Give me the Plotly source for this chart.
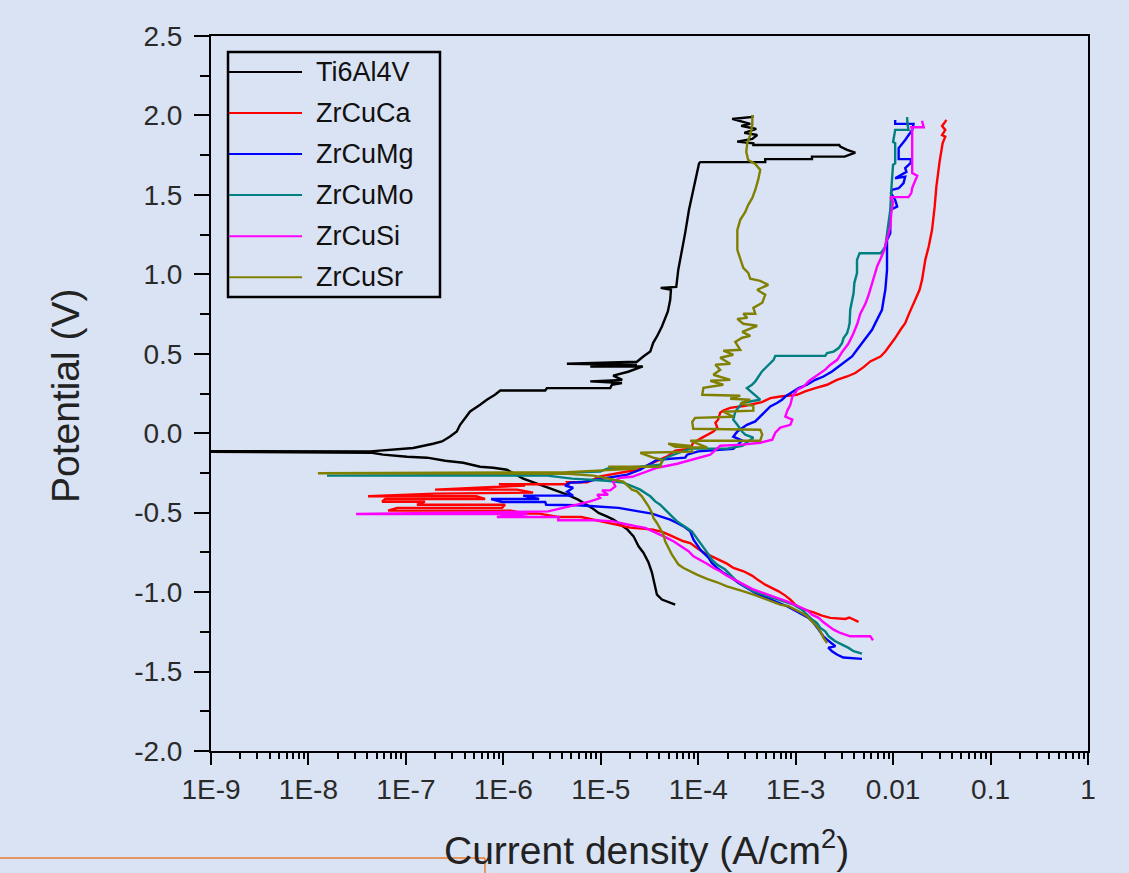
import plotly.graph_objects as go

BG = "#dae3f3"

# ---------------- data (current density A/cm^2, potential V) ----------------
ti_i = [5.8e-5, 4.24e-5, 3.77e-5, 3.62e-5, 3.35e-5, 3.09e-5, 2.74e-5, 2.44e-5, 2.17e-5, 1.85e-5,
        1.35e-5, 1.15e-5, 9.5e-6, 8.1e-6, 5.86e-6, 4.52e-6, 3.25e-6, 2.02e-6, 1.6e-6, 1.09e-6,
        7.86e-7, 5.78e-7, 3.87e-7, 2.53e-7, 1.65e-7, 1.03e-7, 5.83e-8, 4.5e-8, 1e-10, 1e-10,
        4.3e-8, 1.19e-7, 1.9e-7, 2.35e-7, 2.84e-7, 3.33e-7, 3.6e-7, 4.22e-7, 4.56e-7, 5.78e-7,
        6.77e-7, 8.2e-7, 9.3e-7, 2.69e-6, 2.8e-6, 1.25e-5, 1.3e-5, 1.65e-5, 7.8e-6, 1.66e-5,
        1.34e-5, 1.91e-5, 2.7e-5, 7.8e-6, 2.35e-5, 4.49e-6, 2.35e-5, 2.73e-5, 3.22e-5, 3.45e-5,
        3.77e-5, 4.24e-5, 4.58e-5, 4.88e-5, 5.16e-5, 5.25e-5, 4.12e-5, 5.95e-5, 6.24e-5, 6.77e-5,
        7.35e-5, 8.04e-5, 8.76e-5, 9.53e-5, 1.02e-4, 1.05e-4, 4.87e-4, 4.87e-4, 1.47e-3, 1.47e-3,
        3.18e-3, 4.09e-3, 3.37e-3, 2.87e-3, 2.8e-3, 3.68e-4, 3.68e-4, 2.51e-4, 3.59e-4, 4.03e-4,
        2.97e-4, 3.94e-4, 2.76e-4, 3.42e-4, 2.23e-4, 3.59e-4, 3.59e-4]
ti_e = [-1.079, -1.047, -1.016, -0.964, -0.877, -0.814, -0.752, -0.712, -0.649, -0.603,
        -0.544, -0.523, -0.502, -0.47, -0.418, -0.387, -0.355, -0.305, -0.286, -0.230,
        -0.217, -0.211, -0.186, -0.173, -0.154, -0.148, -0.135, -0.123, -0.118, -0.113,
        -0.114, -0.093, -0.066, -0.052, -0.020, 0.011, 0.053, 0.106, 0.137, 0.179,
        0.211, 0.242, 0.269, 0.269, 0.284, 0.284, 0.305, 0.316, 0.326, 0.336,
        0.362, 0.387, 0.42, 0.42, 0.431, 0.437, 0.45, 0.483, 0.514, 0.569,
        0.609, 0.672, 0.726, 0.766, 0.840, 0.903, 0.915, 0.921, 1.028, 1.135,
        1.261, 1.406, 1.511, 1.615, 1.699, 1.706, 1.706, 1.725, 1.725, 1.741,
        1.741, 1.766, 1.783, 1.804, 1.814, 1.814, 1.825, 1.835, 1.852, 1.877,
        1.89, 1.915, 1.934, 1.947, 1.978, 1.99, 2.003]

ca_i = [4.42e-3, 3.55e-3, 3.23e-3, 2.27e-3, 1.86e-3, 1.53e-3, 1.16e-3, 9.9e-4, 8.82e-4, 7.83e-4,
        6.68e-4, 5.71e-4, 4.87e-4, 4.16e-4, 3.56e-4, 2.92e-4, 2.3e-4, 1.97e-4, 1.68e-4, 1.38e-4,
        1.13e-4, 9.7e-5, 8.28e-5, 7.07e-5, 5.8e-5, 4.96e-5, 4.4e-5, 3.62e-5, 3.45e-5, 2.0e-5,
        1.47e-5, 6.3e-6, 3.66e-6, 2.33e-6, 1.71e-6, 1.2e-6, 6.57e-8, 8.13e-8, 9.7e-7, 1.04e-6,
        1.3e-7, 1.57e-7, 5.7e-8, 6.13e-8, 6.5e-7, 5.26e-7, 4.09e-8, 1.99e-7, 2.02e-6, 1.39e-6,
        1.99e-7, 8.6e-7, 1.67e-6, 9.0e-7, 4.63e-6, 4.52e-6, 7.26e-6, 9.86e-6, 1.7e-5, 2.36e-5,
        4.8e-5, 5.8e-5, 8.28e-5, 8.89e-5, 1.1e-4, 1.24e-4, 1.43e-4, 1.57e-4, 1.5e-4, 1.6e-4,
        1.68e-4, 1.81e-4, 2.13e-4, 3.04e-4, 4.51e-4, 5.49e-4, 6.95e-4, 1.03e-3, 1.25e-3, 1.59e-3,
        2.1e-3, 2.65e-3, 3.37e-3, 4.09e-3, 4.98e-3, 5.83e-3, 7.42e-3, 8.32e-3, 9.4e-3, 1.05e-2,
        1.19e-2, 1.33e-2, 1.44e-2, 1.62e-2, 1.76e-2, 1.87e-2, 1.98e-2, 2.14e-2, 2.32e-2, 2.51e-2,
        2.67e-2, 2.78e-2, 3.0e-2, 3.22e-2, 3.43e-2, 3.18e-2, 3.43e-2, 3.18e-2, 3.43e-2, 3.52e-2]
ca_e = [-1.187, -1.16, -1.169, -1.162, -1.148, -1.127, -1.106, -1.079, -1.047, -1.022,
        -0.995, -0.974, -0.953, -0.926, -0.896, -0.869, -0.848, -0.821, -0.8, -0.775,
        -0.75, -0.722, -0.691, -0.68, -0.659, -0.638, -0.624, -0.611, -0.607, -0.594,
        -0.575, -0.527, -0.527, -0.506, -0.506, -0.487, -0.487, -0.47, -0.47, -0.45,
        -0.45, -0.431, -0.431, -0.414, -0.414, -0.397, -0.397, -0.38, -0.374, -0.355,
        -0.355, -0.336, -0.33, -0.321, -0.321, -0.309, -0.309, -0.272, -0.248, -0.23,
        -0.146, -0.11, -0.097, -0.06, -0.028, -0.009, 0.011, 0.035, 0.066, 0.085,
        0.129, 0.143, 0.16, 0.173, 0.196, 0.221, 0.231, 0.242, 0.263, 0.284,
        0.305, 0.336, 0.357, 0.379, 0.416, 0.452, 0.483, 0.514, 0.557, 0.599,
        0.651, 0.693, 0.745, 0.819, 0.86, 0.903, 0.965, 1.091, 1.175, 1.28,
        1.426, 1.552, 1.709, 1.825, 1.867, 1.877, 1.909, 1.934, 1.961, 1.972]

mg_i = [4.79e-3, 3.08e-3, 2.65e-3, 2.36e-3, 2.16e-3, 2.55e-3, 2.1e-3, 1.92e-3, 1.72e-3, 1.53e-3,
        1.36e-3, 1.12e-3, 9.5e-4, 8.14e-4, 6.43e-4, 5.07e-4, 3.85e-4, 3.16e-4, 2.59e-4, 2.22e-4,
        1.82e-4, 1.56e-4, 1.38e-4, 1.28e-4, 1.18e-4, 1.05e-4, 9.7e-5, 8.94e-5, 8.28e-5, 7.07e-5,
        6.06e-5, 5.16e-5, 4.07e-5, 3.35e-5, 2.44e-5, 1.52e-5, 8.43e-6, 5.86e-6, 2.75e-6, 2.69e-6,
        9.7e-7, 7.5e-7, 2.33e-6, 1.6e-6, 5.2e-6, 4.52e-6, 5.2e-6, 4.3e-6, 4.85e-6, 6.15e-6,
        1.19e-5, 1.87e-5, 2.54e-5, 3.8e-5, 7.35e-5, 7.7e-5, 1.0e-4, 2.29e-4, 2.83e-4, 2.29e-4,
        2.52e-4, 3.16e-4, 3.85e-4, 4.33e-4, 4.87e-4, 5.49e-4, 6.43e-4, 7.24e-4, 7.83e-4, 9.17e-4,
        1.07e-3, 1.31e-3, 1.59e-3, 1.93e-3, 2.36e-3, 2.76e-3, 3.23e-3, 3.79e-3, 4.26e-3, 4.79e-3,
        5.39e-3, 6.08e-3, 6.57e-3, 7.1e-3, 7.69e-3, 7.99e-3, 8.32e-3, 8.66e-3, 8.66e-3, 9.35e-3,
        9.35e-3, 1.1e-2, 1.05e-2, 9.5e-3, 9.7e-3, 1.14e-2, 1.28e-2, 1.33e-2, 1.05e-2, 1.37e-2,
        1.33e-2, 1.5e-2, 1.54e-2, 1.14e-2, 1.14e-2, 1.33e-2, 1.57e-2, 1.62e-2, 1.05e-2, 1.05e-2]
mg_e = [-1.42, -1.412, -1.393, -1.372, -1.349, -1.341, -1.299, -1.278, -1.236, -1.194,
        -1.162, -1.131, -1.11, -1.089, -1.064, -1.036, -1.005, -0.974, -0.942, -0.911,
        -0.879, -0.848, -0.816, -0.785, -0.764, -0.733, -0.701, -0.67, -0.618, -0.586,
        -0.565, -0.544, -0.523, -0.506, -0.492, -0.47, -0.46, -0.453, -0.45, -0.433,
        -0.433, -0.414, -0.414, -0.393, -0.393, -0.368, -0.343, -0.33, -0.311, -0.309,
        -0.28, -0.261, -0.23, -0.167, -0.154, -0.135, -0.114, -0.099, -0.047, -0.022,
        0.011, 0.053, 0.074, 0.106, 0.137, 0.169, 0.19, 0.211, 0.231, 0.257,
        0.284, 0.305, 0.336, 0.357, 0.389, 0.42, 0.452, 0.483, 0.525, 0.567,
        0.609, 0.651, 0.693, 0.735, 0.777, 0.84, 0.903, 1.028, 1.217, 1.259,
        1.406, 1.426, 1.468, 1.511, 1.531, 1.542, 1.574, 1.615, 1.605, 1.645,
        1.668, 1.699, 1.725, 1.725, 1.794, 1.846, 1.909, 1.947, 1.947, 1.972]

mo_i = [4.79e-3, 3.93e-3, 3.49e-3, 2.99e-3, 2.55e-3, 2.18e-3, 2.01e-3, 1.79e-3, 1.65e-3, 1.47e-3,
        1.31e-3, 1.16e-3, 9.5e-4, 7.52e-4, 5.71e-4, 4.51e-4, 3.7e-4, 3.04e-4, 2.5e-4, 2.22e-4,
        1.89e-4, 1.56e-4, 1.38e-4, 1.28e-4, 1.18e-4, 1.05e-4, 9.7e-5, 8.6e-5, 7.66e-5, 6.81e-5,
        6.06e-5, 5.37e-5, 4.58e-5, 4.07e-5, 3.62e-5, 3.22e-5, 2.86e-5, 2.54e-5, 2.15e-5, 1.7e-5,
        1.16e-5, 7.78e-6, 5.09e-6, 2.82e-6, 1.55e-8, 2.82e-6, 4.52e-6, 9.86e-6, 1.16e-5, 2.54e-5,
        4.07e-5, 4.37e-5, 4.92e-5, 8.28e-5, 1.98e-4, 2.83e-4, 3.26e-4, 3.68e-4, 3.04e-4, 2.83e-4,
        2.52e-4, 2.29e-4, 2.4e-4, 2.83e-4, 4.33e-4, 3.16e-4, 3.56e-4, 3.85e-4, 4.16e-4, 4.51e-4,
        5.07e-4, 5.49e-4, 5.94e-4, 6.18e-4, 2.01e-3, 2.1e-3, 2.45e-3, 2.76e-3, 2.99e-3, 3.1e-3,
        3.37e-3, 3.49e-3, 3.58e-3, 3.63e-3, 3.79e-3, 3.93e-3, 4.0e-3, 4.26e-3, 4.26e-3, 4.53e-3,
        7.42e-3, 7.69e-3, 8.32e-3, 8.66e-3, 8.87e-3, 9.35e-3, 9.58e-3, 9.73e-3, 9.98e-3, 1.05e-2,
        1.05e-2, 1.0e-2, 1.05e-2, 1.44e-2, 1.41e-2, 1.39e-2]
mo_e = [-1.387, -1.372, -1.351, -1.33, -1.309, -1.278, -1.247, -1.225, -1.194, -1.173,
        -1.142, -1.11, -1.079, -1.058, -1.036, -1.016, -0.995, -0.964, -0.932, -0.901,
        -0.858, -0.827, -0.796, -0.764, -0.733, -0.691, -0.659, -0.618, -0.596, -0.575,
        -0.555, -0.523, -0.481, -0.45, -0.429, -0.397, -0.376, -0.355, -0.336, -0.311,
        -0.299, -0.292, -0.286, -0.267, -0.267, -0.261, -0.248, -0.242, -0.223, -0.211,
        -0.198, -0.167, -0.148, -0.097, -0.097, -0.079, -0.052, -0.028, -0.009, 0.009,
        0.053, 0.085, 0.135, 0.192, 0.211, 0.284, 0.305, 0.326, 0.357, 0.389,
        0.42, 0.442, 0.462, 0.487, 0.487, 0.504, 0.514, 0.536, 0.567, 0.599,
        0.63, 0.662, 0.693, 0.777, 0.84, 0.882, 0.945, 1.008, 1.091, 1.133,
        1.133, 1.143, 1.175, 1.259, 1.322, 1.406, 1.531, 1.615, 1.689, 1.699,
        1.825, 1.833, 1.909, 1.909, 1.940, 1.989]

si_i = [6.22e-3, 5.83e-3, 3.63e-3, 2.87e-3, 2.45e-3, 2.18e-3, 1.93e-3, 1.72e-3, 1.47e-3, 1.31e-3,
        1.16e-3, 9.9e-4, 8.14e-4, 6.43e-4, 5.07e-4, 4.16e-4, 3.56e-4, 2.92e-4, 2.4e-4, 1.97e-4,
        1.68e-4, 1.44e-4, 1.23e-4, 1.05e-4, 8.94e-5, 7.95e-5, 7.07e-5, 6.28e-5, 5.57e-5, 4.77e-5,
        4.07e-5, 3.35e-5, 2.86e-5, 2.35e-5, 1.85e-5, 1.58e-5, 1.35e-5, 8.76e-6, 3.66e-6, 3.66e-6,
        8.6e-7, 1.76e-6, 3.08e-8, 1.6e-6, 2.88e-6, 4.11e-6, 5.73e-6, 7.78e-6, 9.86e-6, 9.19e-6,
        1.19e-5, 1.03e-5, 1.25e-5, 1.41e-5, 1.34e-5, 1.58e-5, 2.1e-5, 2.86e-5, 3.8e-5, 6.09e-5,
        9.3e-5, 1.33e-4, 1.68e-4, 2.83e-4, 4.33e-4, 5.75e-4, 6.18e-4, 6.95e-4, 8.82e-4, 9.24e-4,
        7.83e-4, 8.2e-4, 8.82e-4, 9.24e-4, 1.04e-3, 1.2e-3, 1.38e-3, 1.67e-3, 2.01e-3, 2.27e-3,
        2.67e-3, 3.01e-3, 3.47e-3, 3.9e-3, 4.29e-3, 4.61e-3, 5.19e-3, 5.57e-3, 5.98e-3, 6.42e-3,
        6.88e-3, 7.42e-3, 8.13e-3, 8.72e-3, 9.35e-3, 9.58e-3, 1.0e-2, 9.35e-3, 1.44e-2, 1.54e-2,
        1.57e-2, 1.77e-2, 1.57e-2, 1.57e-2, 1.54e-2, 2.06e-2, 1.98e-2]
si_e = [-1.303, -1.278, -1.278, -1.257, -1.236, -1.215, -1.19, -1.162, -1.142, -1.114,
        -1.099, -1.079, -1.058, -1.036, -1.016, -0.995, -0.98, -0.953, -0.921, -0.896,
        -0.869, -0.848, -0.821, -0.796, -0.775, -0.743, -0.722, -0.701, -0.68, -0.659,
        -0.638, -0.613, -0.596, -0.586, -0.575, -0.565, -0.555, -0.548, -0.548, -0.527,
        -0.527, -0.508, -0.508, -0.494, -0.492, -0.47, -0.45, -0.429, -0.408, -0.387,
        -0.387, -0.36, -0.36, -0.335, -0.305, -0.28, -0.274, -0.242, -0.217, -0.192,
        -0.16, -0.135, -0.079, -0.072, -0.06, -0.041, 0.003, 0.035, 0.053, 0.085,
        0.104, 0.142, 0.179, 0.230, 0.274, 0.292, 0.33, 0.368, 0.40, 0.431,
        0.462, 0.513, 0.563, 0.626, 0.689, 0.752, 0.814, 0.865, 0.934, 1.003,
        1.053, 1.097, 1.154, 1.23, 1.299, 1.387, 1.456, 1.486, 1.486, 1.513,
        1.544, 1.62, 1.638, 1.909, 1.926, 1.926, 1.967]

sr_i = [2.1e-3, 1.93e-3, 1.79e-3, 1.65e-3, 1.47e-3, 1.31e-3, 1.16e-3, 9.9e-4, 8.43e-4, 6.95e-4,
        5.71e-4, 4.51e-4, 3.7e-4, 2.92e-4, 2.4e-4, 1.97e-4, 1.56e-4, 1.23e-4, 9.7e-5, 8.28e-5,
        7.07e-5, 6.28e-5, 5.8e-5, 5.37e-5, 4.96e-5, 4.58e-5, 4.4e-5, 4.07e-5, 3.77e-5, 3.47e-5,
        3.35e-5, 3.09e-5, 2.86e-5, 2.64e-5, 2.35e-5, 2.09e-5, 1.7e-5, 1.16e-5, 8.37e-6, 4.52e-6,
        1.25e-8, 4.52e-6, 9.86e-6, 2.36e-5, 1.19e-5, 4.07e-5, 4.27e-5, 3.45e-5, 2.54e-5, 8.68e-5,
        8.28e-5, 4.92e-5, 5.8e-5, 1.24e-4, 8.28e-5, 4.33e-4, 4.54e-4, 4.33e-4, 8.89e-5, 8.68e-5,
        9.3e-5, 2.29e-4, 1.81e-4, 3.68e-4, 3.68e-4, 2.7e-4, 3.42e-4, 2.13e-4, 2.7e-4, 1.1e-4,
        1.13e-4, 1.81e-4, 1.33e-4, 2.13e-4, 1.43e-4, 1.68e-4, 1.5e-4, 2.13e-4, 1.68e-4, 2.29e-4,
        1.81e-4, 2.7e-4, 2.4e-4, 2.83e-4, 3.42e-4, 2.83e-4, 4.03e-4, 2.9e-4, 2.52e-4, 3.19e-4,
        2.9e-4, 3.85e-4, 3.68e-4, 4.54e-4, 4.87e-4, 4.03e-4, 5.23e-4, 4.33e-4, 3.42e-4, 3.26e-4,
        2.9e-4, 2.7e-4, 2.52e-4, 2.52e-4, 2.7e-4, 3.04e-4, 3.26e-4, 3.59e-4, 3.85e-4, 4.12e-4,
        4.33e-4, 3.85e-4, 3.26e-4, 3.11e-4, 3.19e-4, 3.42e-4, 3.59e-4, 3.59e-4]
sr_e = [-1.32, -1.288, -1.247, -1.215, -1.184, -1.152, -1.131, -1.11, -1.089, -1.079,
        -1.058, -1.036, -1.016, -0.995, -0.98, -0.964, -0.938, -0.917, -0.89, -0.869,
        -0.848, -0.827, -0.796, -0.764, -0.722, -0.68, -0.638, -0.596, -0.565, -0.533,
        -0.502, -0.46, -0.429, -0.397, -0.366, -0.355, -0.305, -0.286, -0.267, -0.255,
        -0.252, -0.245, -0.233, -0.223, -0.211, -0.211, -0.167, -0.154, -0.123, -0.116,
        -0.079, -0.066, -0.085, -0.091, -0.047, -0.047, -0.009, 0.022, 0.028, 0.072,
        0.097, 0.104, 0.135, 0.142, 0.173, 0.186, 0.211, 0.217, 0.236, 0.242,
        0.286, 0.305, 0.33, 0.336, 0.368, 0.399, 0.431, 0.437, 0.475, 0.494,
        0.519, 0.525, 0.575, 0.601, 0.613, 0.638, 0.676, 0.689, 0.72, 0.726,
        0.752, 0.752, 0.789, 0.821, 0.871, 0.903, 0.934, 0.959, 0.972, 1.009,
        1.041, 1.104, 1.154, 1.28, 1.343, 1.393, 1.437, 1.481, 1.531, 1.594,
        1.657, 1.695, 1.72, 1.77, 1.827, 1.877, 1.94, 2.003]

series_names = ["Ti6Al4V", "ZrCuCa", "ZrCuMg", "ZrCuMo", "ZrCuSi", "ZrCuSr"]
series_colors = ["#000000", "#ff0000", "#0000ff", "#008080", "#ff00ff", "#808000"]
series_data = [(ti_i, ti_e), (ca_i, ca_e), (mg_i, mg_e), (mo_i, mo_e), (si_i, si_e), (sr_i, sr_e)]

x_tickvals = [1e-9, 1e-8, 1e-7, 1e-6, 1e-5, 1e-4, 1e-3, 1e-2, 1e-1, 1]
x_ticktext = ["1E-9", "1E-8", "1E-7", "1E-6", "1E-5", "1E-4", "1E-3", "0.01", "0.1", "1"]
y_tickvals = [-2.0, -1.5, -1.0, -0.5, 0.0, 0.5, 1.0, 1.5, 2.0, 2.5]
y_ticktext = ["-2.0", "-1.5", "-1.0", "-0.5", "0.0", "0.5", "1.0", "1.5", "2.0", "2.5"]

for (xi, ye), nm in zip(series_data, series_names):
    assert len(xi) == len(ye), nm

x_minor = [m * d for d in x_tickvals[:-1] for m in range(2, 10)]

fig = go.Figure()
for (xi, ye), nm, col in zip(series_data, series_names, series_colors):
    fig.add_trace(go.Scatter(x=xi, y=ye, mode="lines", name=nm, showlegend=False,
                             line=dict(color=col, width=2.4)))

FONT = "Liberation Sans, Arial, sans-serif"
fig.update_layout(
    width=1129, height=873,
    paper_bgcolor=BG, plot_bgcolor=BG,
    margin=dict(l=211, r=41, t=36, b=122),
    showlegend=False,
    font=dict(family=FONT, color="#222222"),
)
fig.update_xaxes(type="log", range=[-9, 0], tickvals=x_tickvals, ticktext=x_ticktext,
                 ticks="outside", ticklen=12, tickwidth=2, tickcolor="black",
                 showline=True, linewidth=2, linecolor="black", mirror=True,
                 showgrid=False, zeroline=False,
                 tickfont=dict(family=FONT, size=28, color="#2a2a2a"),
                 ticklabelstandoff=0,
                 minor=dict(tickvals=x_minor, ticks="outside", ticklen=6, tickwidth=2,
                            tickcolor="black", showgrid=False))
fig.update_yaxes(range=[-2.0, 2.5], tickvals=y_tickvals, ticktext=y_ticktext,
                 ticks="outside", ticklen=15, tickwidth=2, tickcolor="black",
                 showline=True, linewidth=2, linecolor="black", mirror=True,
                 showgrid=False, zeroline=False,
                 tickfont=dict(family=FONT, size=28, color="#2a2a2a"),
                 ticklabelstandoff=6,
                 minor=dict(dtick=0.25, ticks="outside", ticklen=9, tickwidth=2,
                            tickcolor="black", showgrid=False))

# axis titles
fig.add_annotation(text="Current density (A/cm<sup>2</sup>)", xref="paper", yref="paper",
                   x=0.497, y=-0.1345, xanchor="center", yanchor="middle", showarrow=False,
                   font=dict(family=FONT, size=39, color="#222222"))
fig.add_annotation(text="Potential (V)", xref="paper", yref="paper", textangle=-90,
                   x=-0.166, y=0.497, xanchor="center", yanchor="middle", showarrow=False,
                   font=dict(family=FONT, size=39, color="#222222"))

# legend box drawn in paper coordinates
leg_x0, leg_x1, leg_y0, leg_y1 = 0.0194, 0.2611, 0.635, 0.9776
fig.add_shape(type="rect", xref="paper", yref="paper", x0=leg_x0, x1=leg_x1,
              y0=leg_y0, y1=leg_y1, line=dict(color="black", width=2.5), fillcolor=BG)
row_step = 0.0574
for k, (nm, col) in enumerate(zip(series_names, series_colors)):
    yy = 0.9497 - k * row_step
    fig.add_shape(type="line", xref="paper", yref="paper", x0=0.0205, x1=0.1038,
                  y0=yy, y1=yy, line=dict(color=col, width=2))
    fig.add_annotation(text=nm, xref="paper", yref="paper", x=0.1174, y=yy,
                       xanchor="left", yanchor="middle", showarrow=False,
                       font=dict(family=FONT, size=27, color="#111111"))

# orange frame fragment at the bottom-left of the picture
fig.add_shape(type="line", xref="paper", yref="paper", x0=-0.2406, x1=0.3124,
              y0=-0.1497, y1=-0.1497, line=dict(color="#ed7d31", width=1.5))
fig.add_shape(type="line", xref="paper", yref="paper", x0=0.3124, x1=0.3124,
              y0=-0.1497, y1=-0.18, line=dict(color="#ed7d31", width=1.5))

fig.write_html("out.html", config={"displayModeBar": False},
               post_script="document.body.style.margin='0';document.body.style.background='" + BG + "';")
